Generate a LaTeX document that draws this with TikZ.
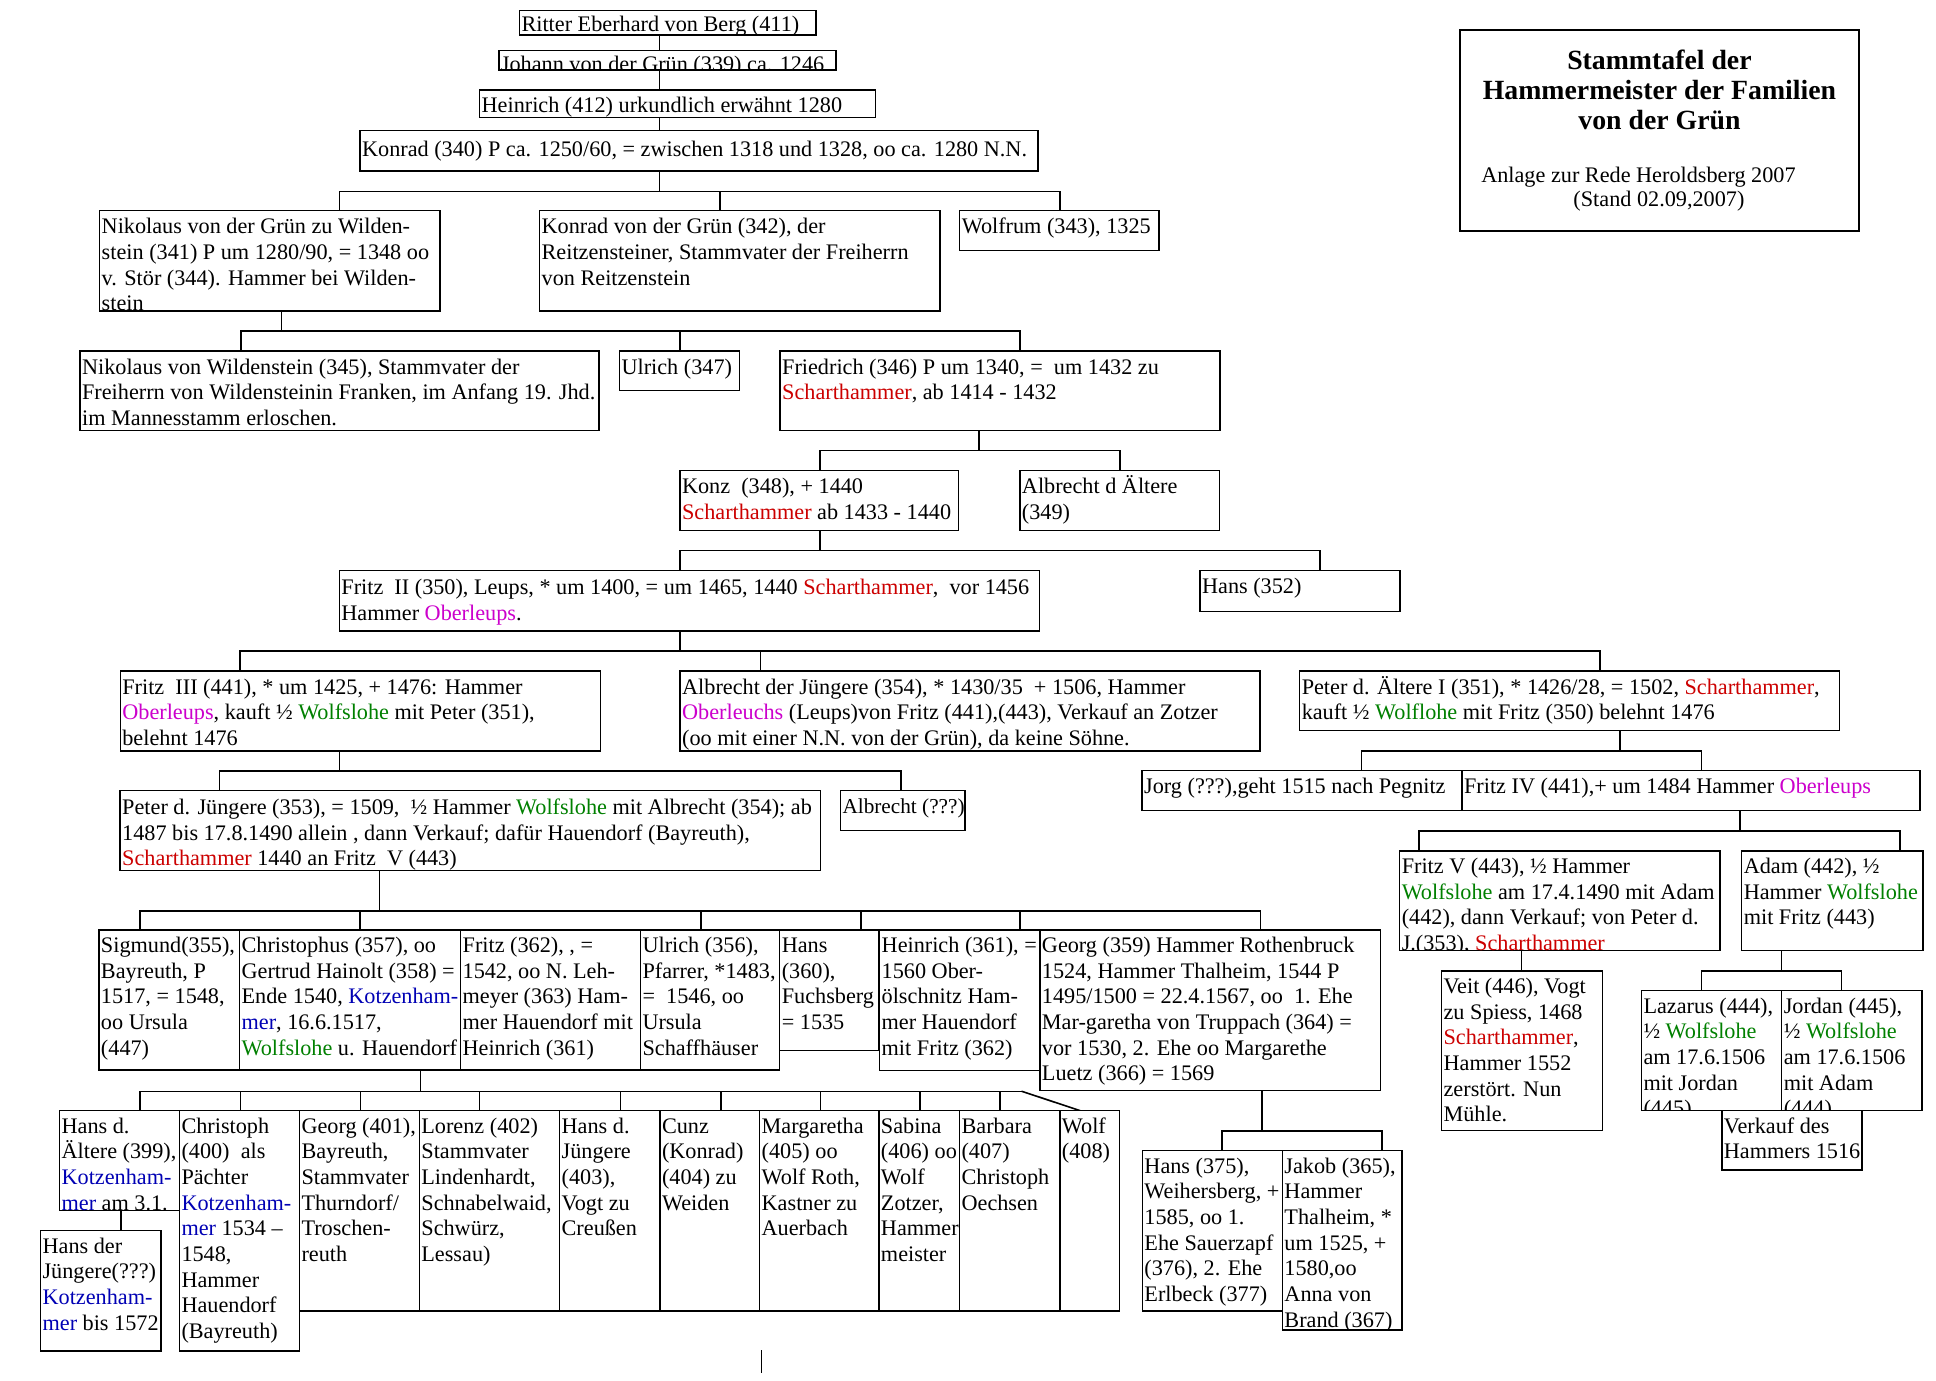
\documentclass[tikz,border=0pt]{standalone}
\usepackage{fontspec}
\setmainfont{Liberation Serif}
\usetikzlibrary{backgrounds}
\definecolor{cred}{RGB}{204,0,0}
\definecolor{cmag}{RGB}{204,0,204}
\definecolor{cgrn}{RGB}{0,128,0}
\definecolor{cblu}{RGB}{0,0,180}
\newcommand\fsz{\fontsize{18}{20.8}\selectfont}
\newcommand\colR[1]{\textcolor{cred}{#1}}
\newcommand\colM[1]{\textcolor{cmag}{#1}}
\newcommand\colG[1]{\textcolor{cgrn}{#1}}
\newcommand\colB[1]{\textcolor{cblu}{#1}}
\tikzset{
  box/.style={draw, line width=1.2pt, fill=white, inner sep=0pt, outer sep=0pt, anchor=north west},
  txt/.style={anchor=north west, inner xsep=1.5pt, inner ysep=0pt, align=left, font=\fsz},
  conn/.style={line width=1.3pt, line cap=rect},
  tbold/.style={anchor=base, inner sep=0pt, font=\fontsize{22.5}{24.3}\selectfont\bfseries},
  treg/.style={anchor=base, inner sep=0pt, font=\fsz},
}
% #1 baseline offset, #2 name, #3 x1, #4 y1, #5 x2, #6 y2, #7 text
\newcommand\gbox[7][18.5]{%
  \node[box, minimum width=#5pt-#3pt, minimum height=#6pt-#4pt] (#2) at (#3,#4) {};
  \begin{scope}
    \clip (#2.north west) rectangle (#2.south east);
    \node[txt] (#2-t) at (#3,#4+#1-16) {\rule{0pt}{16pt}#7};
  \end{scope}}
% #1 parent, #2 drop x, #3 bar y, #4 bar left, #5 bar right, #6 list x/child
\newcommand\famtree[6]{%
  \coordinate (#1-p) at (#2,#3);
  \coordinate (#1-bl) at (#4,#3);
  \coordinate (#1-br) at (#5,#3);
  \draw[conn] (#1.south -| #1-p) -- (#1-p);
  \draw[conn] (#1-bl) -- (#1-br);
  \foreach \xx/\ch in {#6}{\coordinate (tmpc) at (\xx,#3); \draw[conn] (tmpc) -- (\ch.north -| tmpc);}}
\begin{document}
\begin{tikzpicture}[x=1pt,y=-1pt]
\useasboundingbox (0,0) rectangle (1568,1118);
% top chain
\gbox[17]{ritter}{420.7}{8.6}{661}{28.3}{Ritter Eberhard von Berg (411)}
\gbox[17]{johann}{404}{41}{677}{56.7}{Johann von der Grün (339) ca. 1246}
\gbox[18]{heinr}{388.4}{72.9}{709.2}{95}{Heinrich (412) urkundlich erwähnt 1280}
\gbox[21]{konr}{291.6}{105.8}{840.5}{138.5}{Konrad (340) P ca. 1250/60, = zwischen 1318 und 1328, oo ca. 1280 N.N.}
% generation 2
\gbox{nik}{80.7}{170.6}{356.3}{252}{Nikolaus von der Grün zu Wilden-\\stein (341) P um 1280/90, = 1348 oo\\v. Stör (344). Hammer bei Wilden-\\stein}
\gbox{konr2}{437}{170.6}{761.3}{252}{Konrad von der Grün (342), der\\Reitzensteiner, Stammvater der Freiherrn\\von Reitzenstein}
\gbox{wolfrum}{777.3}{170.6}{938.6}{203}{Wolfrum (343), 1325}
% generation 3
\gbox{nikw}{64.8}{284.3}{485}{348.8}{Nikolaus von Wildenstein (345), Stammvater der\\Freiherrn von Wildensteinin Franken, im Anfang 19. Jhd.\\im Mannesstamm erloschen.}
\gbox{ulr}{501.7}{284.3}{598.9}{316.4}{Ulrich (347)}
\gbox{fried}{631.8}{284.3}{988}{348.8}{Friedrich (346) P um 1340, =\ \ um 1432 zu\\\colR{Scharthammer}, ab 1414 - 1432}
% generation 4
\gbox{konz}{550.7}{381.2}{776.4}{429.8}{Konz\ \ (348), + 1440\\\colR{Scharthammer} ab 1433 - 1440}
\gbox{albA}{826}{381.2}{987.5}{429.8}{Albrecht d Ältere\\(349)}
% generation 5
\gbox[19]{fritzII}{274.8}{462.2}{841.7}{511}{Fritz\ \ II (350), Leups, * um 1400, = um 1465, 1440 \colR{Scharthammer},\ \ vor 1456\\Hammer \colM{Oberleups}.}
\gbox{hans352}{971.9}{462.2}{1134}{495.4}{Hans (352)}
% generation 6
\gbox{fritzIII}{97.4}{543.5}{486.3}{608.3}{Fritz\ \ III (441), * um 1425, + 1476: Hammer\\\colM{Oberleups}, kauft ½ \colG{Wolfslohe} mit Peter (351),\\belehnt 1476}
\gbox{albJ}{550.8}{543.5}{1020.3}{608.3}{Albrecht der Jüngere (354), * 1430/35\ \ + 1506, Hammer\\\colM{Oberleuchs} (Leups)von Fritz (441),(443), Verkauf an Zotzer\\(oo mit einer N.N. von der Grün), da keine Söhne.}
\gbox{peterA}{1052.6}{543.5}{1490}{591.8}{Peter d. Ältere I (351), * 1426/28, = 1502, \colR{Scharthammer},\\kauft ½ \colG{Wolflohe} mit Fritz (350) belehnt 1476}
% generation 7
\gbox[19]{peterJ}{97.3}{640.4}{664.5}{705.2}{Peter d. Jüngere (353), = 1509,\ \ ½ Hammer \colG{Wolfslohe} mit Albrecht (354); ab\\1487 bis 17.8.1490 allein , dann Verkauf; dafür Hauendorf (Bayreuth),\\\colR{Scharthammer} 1440 an Fritz\ \ V (443)}
\gbox{albQ}{680.7}{640.4}{781.5}{672.8}{\fontsize{17.2}{20.8}\selectfont Albrecht (???)}
\gbox{jorg}{925}{624.2}{1184.1}{656.6}{Jorg (???),geht 1515 nach Pegnitz}
\gbox{fritzIV}{1184.1}{624.2}{1555}{656.6}{Fritz IV (441),+ um 1484 Hammer \colM{Oberleups}}
% right branch
\gbox[18]{fritzV}{1133.6}{689.2}{1393}{770}{Fritz V (443), ½ Hammer\\\colG{Wolfslohe} am 17.4.1490 mit Adam\\(442), dann Verkauf; von Peter d.\\J.(353), \colR{Scharthammer}}
\gbox[18]{adam}{1410.6}{689.2}{1557.3}{770}{Adam (442), ½\\Hammer \colG{Wolfslohe}\\mit Fritz (443)}
\gbox[18]{veit}{1167.5}{786.4}{1297.8}{915.7}{Veit (446), Vogt\\zu Spiess, 1468\\\colR{Scharthammer},\\Hammer 1552\\zerstört. Nun\\Mühle.}
\gbox[18]{lazarus}{1329.4}{802.4}{1443}{899.6}{Lazarus (444),\\½ \colG{Wolfslohe}\\am 17.6.1506\\mit Jordan\\(445)}
\gbox[18]{jordan}{1443}{802.4}{1556.7}{899.6}{Jordan (445),\\½ \colG{Wolfslohe}\\am 17.6.1506\\mit Adam\\(444)}
\gbox[18]{verkauf}{1394.5}{899.6}{1508}{947.6}{Verkauf des\\Hammers 1516}
% generation 8
\gbox[18]{sigm}{80.1}{753.2}{194}{866.6}{Sigmund(355),\\Bayreuth, P\\1517, = 1548,\\oo Ursula\\(447)}
\gbox[18]{christ}{194}{753.2}{373}{866.6}{Christophus (357), oo\\Gertrud Hainolt (358) =\\Ende 1540, \colB{Kotzenham-}\\\colB{mer}, 16.6.1517,\\\colG{Wolfslohe} u. Hauendorf}
\gbox[18]{fritzB}{373}{753.2}{518.7}{866.6}{Fritz (362), , =\\1542, oo N. Leh-\\meyer (363) Ham-\\mer Hauendorf mit\\Heinrich (361)}
\gbox[18]{ulrB}{518.7}{753.2}{631.5}{866.6}{Ulrich (356),\\Pfarrer, *1483,\\=\ \ 1546, oo\\Ursula\\Schaffhäuser}
\gbox[18]{hansB}{631.5}{753.2}{711.8}{851}{Hans\\(360),\\Fuchsberg\\= 1535}
\gbox[18]{heinrB}{712.4}{753.2}{842.2}{867.2}{Heinrich (361), =\\1560 Ober-\\ölschnitz Ham-\\mer Hauendorf\\mit Fritz (362)}
\gbox[18]{georgB}{842.2}{753.2}{1117.9}{883.4}{Georg (359) Hammer Rothenbruck\\1524, Hammer Thalheim, 1544 P\\1495/1500 = 22.4.1567, oo\ \ 1. Ehe\\Mar-garetha von Truppach (364) =\\vor 1530, 2. Ehe oo Margarethe\\Luetz (366) = 1569}
% generation 9
\gbox[18]{hansAe}{48.2}{899.6}{145.3}{980.6}{Hans d.\\Ältere (399),\\\colB{Kotzenham-}\\\colB{mer} am 3.1.}
\gbox[18]{hansJu}{32.8}{996.8}{130.5}{1094.2}{Hans der\\Jüngere(???)\\\colB{Kotzenham-}\\\colB{mer} bis 1572}
\gbox[18]{christoph}{145.3}{899.6}{242.5}{1094.2}{Christoph\\(400)\ \ als\\Pächter\\\colB{Kotzenham-}\\\colB{mer} 1534 –\\1548,\\Hammer\\Hauendorf\\(Bayreuth)}
\gbox[18]{georgC}{242.5}{899.6}{339.6}{1061.6}{Georg (401),\\Bayreuth,\\Stammvater\\Thurndorf/\\Troschen-\\reuth}
\gbox[18]{lorenz}{339.6}{899.6}{453.2}{1061.6}{Lorenz (402)\\Stammvater\\Lindenhardt,\\Schnabelwaid,\\Schwürz,\\Lessau)}
\gbox[18]{hansC}{453.2}{899.6}{534.5}{1061.6}{Hans d.\\Jüngere\\(403),\\Vogt zu\\Creußen}
\gbox[18]{cunz}{534.5}{899.6}{615.2}{1061.6}{Cunz\\(Konrad)\\(404) zu\\Weiden}
\gbox[18]{marg}{615.2}{899.6}{711.8}{1061.6}{Margaretha\\(405) oo\\Wolf Roth,\\Kastner zu\\Auerbach}
\gbox[18]{sabina}{711.8}{899.6}{777.1}{1061.6}{Sabina\\(406) oo\\Wolf\\Zotzer,\\Hammer\\meister}
\gbox[18]{barbara}{777.1}{899.6}{858.4}{1061.6}{Barbara\\(407)\\Christoph\\Oechsen}
\gbox[18]{wolf}{858.4}{899.6}{906.6}{1061.6}{Wolf\\(408)}
\gbox[18]{hansD}{925.2}{932}{1038.6}{1061.6}{Hans (375),\\Weihersberg, +\\1585, oo 1.\\Ehe Sauerzapf\\(376), 2. Ehe\\Erlbeck (377)}
\gbox[18]{jakob}{1038.6}{932}{1135.3}{1077.2}{Jakob (365),\\Hammer\\Thalheim, *\\um 1525, +\\1580,oo\\Anna von\\Brand (367)}
% title
\node[box, minimum width=323.1pt, minimum height=162.6pt] (title) at (1182.5,24.3) {};
\node[tbold] (tl1) at (1344,56) {Stammtafel der};
\node[tbold] (tl2) at (1344,80.4) {Hammermeister der Familien};
\node[tbold] (tl3) at (1344,105) {von der Grün};
\node[treg] (tl4) at (1327,148) {Anlage zur Rede Heroldsberg 2007};
\node[treg] (tl5) at (1343.6,167.4) {(Stand 02.09,2007)};
% connectors
\begin{scope}[on background layer]
\fill[white] (0,0) rectangle (1568,1118);
\coordinate (c0) at (534,155);
\draw[conn] (ritter.south -| c0) -- (johann.north -| c0);
\draw[conn] (johann.south -| c0) -- (heinr.north -| c0);
\draw[conn] (heinr.south -| c0) -- (konr.north -| c0);
\famtree{konr}{534}{155}{275}{858.5}{275/nik,583/konr2,858.5/wolfrum}
\famtree{nik}{228}{268}{195}{826}{195/nikw,550.6/ulr,826/fried}
\famtree{fried}{793}{365}{664}{907}{664/konz,907/albA}
\famtree{konz}{664}{446}{550.7}{1069}{550.7/fritzII,1069/hans352}
\famtree{fritzII}{550.5}{527.3}{194.4}{1296}{194.4/fritzIII,616/albJ,1296/peterA}
\famtree{fritzIII}{275}{624.5}{177.7}{729.6}{177.7/peterJ,729.6/albQ}
\famtree{peterA}{1312}{608.3}{1102.8}{1378}{1102.8/jorg,1378/fritzIV}
\famtree{fritzIV}{1409.3}{673}{1149.5}{1539}{1149.5/fritzV,1539/adam}
\famtree{peterJ}{307.4}{738}{113.4}{1021}{113.4/sigm,291.6/christ,567.5/ulrB,697.4/hansB,826/heinrB,1021/georgB}
\famtree{christ}{340.5}{884}{113.4}{828}{113.4/hansAe,194.7/christoph,291.9/georgC,388.5/lorenz,502.7/hansC,584/cunz,664.6/marg,745.3/sabina,810/barbara}
\coordinate (dgx) at (875,0);
\draw[conn] (christ-br) -- (wolf.north -| dgx);
\famtree{adam}{1443}{786.4}{1378.2}{1491.5}{1378.2/lazarus,1491.5/jordan}
\famtree{georgB}{1022}{916}{989.5}{1119.5}{989.5/hansD,1119.5/jakob}
\coordinate (fvx) at (1232.4,0);
\draw[conn] (fritzV.south -| fvx) -- (veit.north -| fvx);
\coordinate (hax) at (98.2,0);
\draw[conn] (hansAe.south -| hax) -- (hansJu.north -| hax);
\coordinate (tk1) at (617,1093.4);
\coordinate (tk2) at (617,1112.3);
\draw[line width=1pt] (tk1) -- (tk2);
\end{scope}
\end{tikzpicture}
\end{document}
